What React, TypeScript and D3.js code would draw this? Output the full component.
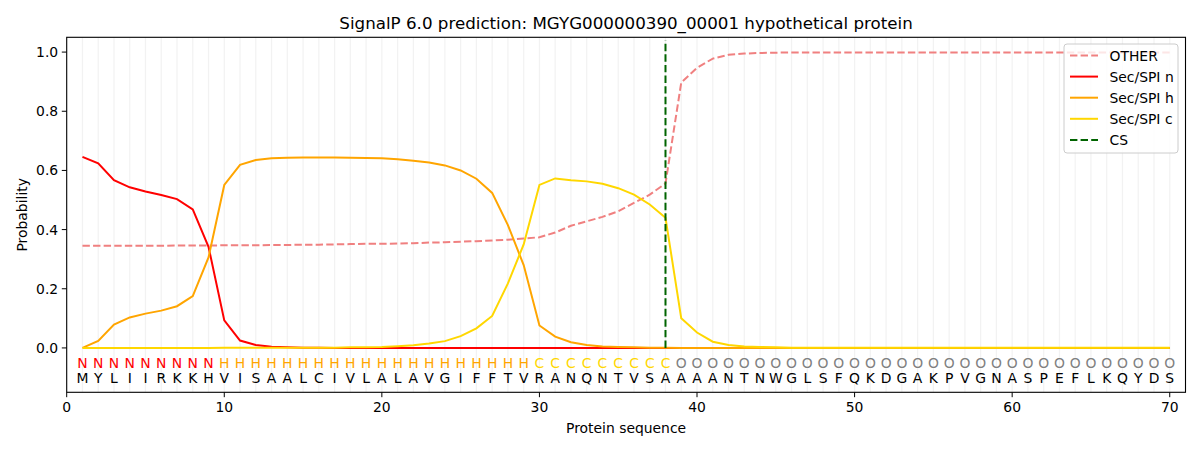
import React from 'react'
import * as d3 from 'd3'

const sequence = 'MYLIIRKKHVISAALCIVLALAVGIFFTVRANQNTVSAAAANTNWGLSFQKDGAKPVGNASPEFLKQYDS'.split('')
const regions = ('N'.repeat(9) + 'H'.repeat(20) + 'C'.repeat(9) + 'O'.repeat(32)).split('')

const other = [
  0.345, 0.345, 0.345, 0.345, 0.345, 0.345, 0.346, 0.346, 0.346,
  0.347, 0.347, 0.347, 0.348, 0.348, 0.349, 0.349, 0.35, 0.351, 0.352,
  0.352, 0.353, 0.354, 0.356, 0.357, 0.359, 0.361, 0.363, 0.366, 0.37,
  0.374, 0.39, 0.413, 0.428, 0.443, 0.462, 0.49, 0.518, 0.556,
  0.897, 0.947, 0.978, 0.991, 0.995, 0.997, 0.998,
  0.999, 0.999, 0.999, 0.999, 0.999, 0.999, 0.999, 0.999, 0.999, 0.999,
  0.999, 0.999, 0.999, 0.999, 0.999, 0.999, 0.999, 0.999, 0.999, 0.999,
  0.999, 0.999, 0.999, 0.999, 0.999,
]
const secN = [
  0.646, 0.624, 0.567, 0.543, 0.529, 0.517, 0.503, 0.468, 0.342, 0.093,
  0.025, 0.01, 0.004, 0.002, 0.001, 0.001, 0, 0, 0, 0,
  0, 0, 0, 0, 0, 0, 0, 0, 0, 0,
  0, 0, 0, 0, 0, 0, 0, 0, 0, 0,
  0, 0, 0, 0, 0, 0, 0, 0, 0, 0,
  0, 0, 0, 0, 0, 0, 0, 0, 0, 0,
  0, 0, 0, 0, 0, 0, 0, 0, 0, 0,
]
const secH = [
  0.0, 0.024, 0.079, 0.103, 0.116, 0.126, 0.141, 0.175, 0.306, 0.551,
  0.619, 0.635, 0.641, 0.643, 0.644, 0.644, 0.644, 0.643, 0.642, 0.641,
  0.638, 0.633, 0.627, 0.617, 0.6, 0.572, 0.524, 0.415, 0.28, 0.076,
  0.038, 0.019, 0.01, 0.005, 0.003, 0.002, 0.001, 0.001, 0, 0,
  0, 0, 0, 0, 0, 0, 0, 0, 0, 0,
  0, 0, 0, 0, 0, 0, 0, 0, 0, 0,
  0, 0, 0, 0, 0, 0, 0, 0, 0, 0,
]
const secC = [
  0, 0, 0, 0, 0, 0, 0, 0, 0, 0.001,
  0.001, 0.001, 0.001, 0.001, 0.001, 0.001, 0.001, 0.002, 0.002, 0.003,
  0.006, 0.009, 0.015, 0.023, 0.04, 0.066, 0.108, 0.218, 0.35, 0.551,
  0.573, 0.567, 0.563, 0.555, 0.54, 0.518, 0.485, 0.44, 0.1, 0.052,
  0.021, 0.01, 0.005, 0.003, 0.002, 0.001, 0.001, 0.001, 0.001, 0.001,
  0.001, 0.001, 0.001, 0.001, 0.001, 0.001, 0.001, 0.001, 0.001, 0.001,
  0.001, 0.001, 0.001, 0.001, 0.001, 0.001, 0.001, 0.001, 0.001, 0.001,
]
const cleavageSite = 38
const xTicks = [0, 10, 20, 30, 40, 50, 60, 70]
const yTicks = [0, 0.2, 0.4, 0.6, 0.8, 1.0]

const regionColor: Record<string, string> = {
  N: '#ff0000',
  H: '#ffa500',
  C: '#ffd700',
  O: '#808080',
}

const series = [
  { name: 'OTHER', values: other, color: '#f08080', dash: '7.4,3.2' },
  { name: 'Sec/SPI n', values: secN, color: '#ff0000', dash: undefined },
  { name: 'Sec/SPI h', values: secH, color: '#ffa500', dash: undefined },
  { name: 'Sec/SPI c', values: secC, color: '#ffd700', dash: undefined },
]

const W = 1200
const H = 450
const margin = { top: 37.3, right: 14.5, bottom: 57.7, left: 66.7 }
const font = 'DejaVu Sans, sans-serif'

export default function App() {
  const x = d3.scaleLinear().domain([0, 71]).range([margin.left, W - margin.right])
  const y = d3.scaleLinear().domain([-0.15, 1.05]).range([H - margin.bottom, margin.top])
  const positions = sequence.map((_, i) => i + 1)

  const line = (vals: number[]) =>
    d3
      .line<number>()
      .x((_, i) => x(i + 1))
      .y((d) => y(d))(vals) ?? ''

  const legendItems = [
    ...series.map((s) => ({ name: s.name, color: s.color, dash: s.dash })),
    { name: 'CS', color: '#006400', dash: '7.4,3.2' },
  ]

  return (
    <svg
      width={W}
      height={H}
      style={{ position: 'fixed', left: 0, top: 0, background: '#fff' }}
      fontFamily={font}
    >
      <rect width={W} height={H} fill="#fff" />
      {/* light vertical guides at each residue */}
      {positions.map((p) => (
        <line
          key={p}
          x1={x(p)}
          x2={x(p)}
          y1={margin.top}
          y2={H - margin.bottom}
          stroke="#000"
          strokeOpacity={0.05}
          strokeWidth={1.3}
        />
      ))}

      {series.map((s) => (
        <path
          key={s.name}
          d={line(s.values)}
          fill="none"
          stroke={s.color}
          strokeWidth={2}
          strokeDasharray={s.dash}
        />
      ))}

      <line
        x1={x(cleavageSite)}
        x2={x(cleavageSite)}
        y1={y(0)}
        y2={y(1.04)}
        stroke="#006400"
        strokeWidth={2}
        strokeDasharray="7.4,3.2"
      />

      {positions.map((p, i) => (
        <g key={'t' + p} fontSize={13.9} textAnchor="middle">
          <text x={x(p)} y={y(-0.05)} dy="0.36em" fill={regionColor[regions[i]]}>
            {regions[i]}
          </text>
          <text x={x(p)} y={y(-0.1)} dy="0.36em" fill="#000">
            {sequence[i]}
          </text>
        </g>
      ))}

      {/* axes frame */}
      <rect
        x={margin.left}
        y={margin.top}
        width={W - margin.left - margin.right}
        height={H - margin.top - margin.bottom}
        fill="none"
        stroke="#000"
        strokeWidth={1.1}
      />

      {xTicks.map((t) => (
        <g key={'x' + t}>
          <line x1={x(t)} x2={x(t)} y1={H - margin.bottom} y2={H - margin.bottom + 4.9} stroke="#000" />
          <text x={x(t)} y={H - margin.bottom + 19.5} fontSize={13.9} textAnchor="middle" fill="#000">
            {t}
          </text>
        </g>
      ))}
      {yTicks.map((t) => (
        <g key={'y' + t}>
          <line x1={margin.left - 4.9} x2={margin.left} y1={y(t)} y2={y(t)} stroke="#000" />
          <text x={margin.left - 8.5} y={y(t)} dy="0.36em" fontSize={13.9} textAnchor="end" fill="#000">
            {d3.format('.1f')(t)}
          </text>
        </g>
      ))}

      <text x={(margin.left + W - margin.right) / 2} y={433} fontSize={13.9} textAnchor="middle">
        Protein sequence
      </text>
      <text
        transform={`translate(22,${(margin.top + H - margin.bottom) / 2}) rotate(-90)`}
        dy="0.36em"
        fontSize={13.9}
        textAnchor="middle"
      >
        Probability
      </text>
      <text x={(margin.left + W - margin.right) / 2} y={29} fontSize={16.7} textAnchor="middle">
        SignalP 6.0 prediction: MGYG000000390_00001 hypothetical protein
      </text>

      <g>
        <rect x={1064} y={44} width={114} height={109} rx={3} fill="#fff" fillOpacity={0.8} stroke="#cccccc" />
        {legendItems.map((it, i) => {
          const cy = 55.5 + i * 21.1
          return (
            <g key={it.name}>
              <line x1={1070} x2={1098} y1={cy} y2={cy} stroke={it.color} strokeWidth={2} strokeDasharray={it.dash} />
              <text x={1109.5} y={cy} dy="0.36em" fontSize={13.9} fill="#000">
                {it.name}
              </text>
            </g>
          )
        })}
      </g>
    </svg>
  )
}
